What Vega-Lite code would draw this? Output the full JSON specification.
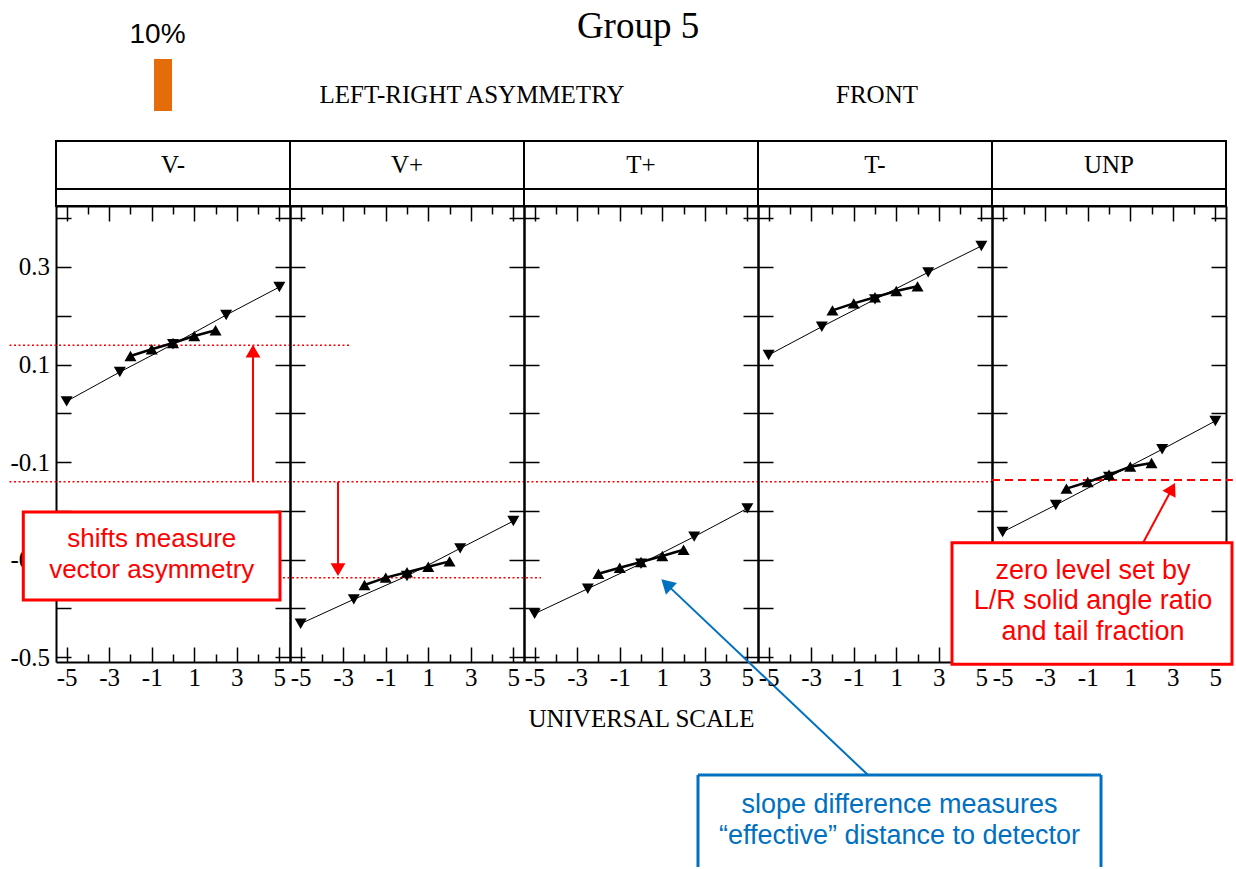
{
  "$schema": "https://vega.github.io/schema/vega-lite/v6.json",
  "autosize": {"type": "pad"},
  "padding": {"left": 8, "top": 7, "right": 0, "bottom": 0},
  "background": "white",
  "bounds": "flush",
  "spacing": 0,
  "datasets": {
    "pts": [
      {"panel": "V-", "series": "down", "x": -5, "y": 0.0245},
      {"panel": "V-", "series": "down", "x": -2.5, "y": 0.0846},
      {"panel": "V-", "series": "down", "x": 0, "y": 0.1414},
      {"panel": "V-", "series": "down", "x": 2.5, "y": 0.2015},
      {"panel": "V-", "series": "down", "x": 5, "y": 0.2589},
      {"panel": "V-", "series": "up", "x": -2, "y": 0.1174},
      {"panel": "V-", "series": "up", "x": -1, "y": 0.1312},
      {"panel": "V-", "series": "up", "x": 0, "y": 0.144},
      {"panel": "V-", "series": "up", "x": 1, "y": 0.1584},
      {"panel": "V-", "series": "up", "x": 2, "y": 0.1701},
      {"panel": "V+", "series": "down", "x": -5, "y": -0.4315},
      {"panel": "V+", "series": "down", "x": -2.5, "y": -0.3815},
      {"panel": "V+", "series": "down", "x": 0, "y": -0.3337},
      {"panel": "V+", "series": "down", "x": 2.5, "y": -0.277},
      {"panel": "V+", "series": "down", "x": 5, "y": -0.221},
      {"panel": "V+", "series": "up", "x": -2, "y": -0.352},
      {"panel": "V+", "series": "up", "x": -1, "y": -0.337},
      {"panel": "V+", "series": "up", "x": 0, "y": -0.326},
      {"panel": "V+", "series": "up", "x": 1, "y": -0.3146},
      {"panel": "V+", "series": "up", "x": 2, "y": -0.3036},
      {"panel": "T+", "series": "down", "x": -5, "y": -0.411},
      {"panel": "T+", "series": "down", "x": -2.5, "y": -0.3597},
      {"panel": "T+", "series": "down", "x": 0, "y": -0.3084},
      {"panel": "T+", "series": "down", "x": 2.5, "y": -0.253},
      {"panel": "T+", "series": "down", "x": 5, "y": -0.195},
      {"panel": "T+", "series": "up", "x": -2, "y": -0.329},
      {"panel": "T+", "series": "up", "x": -1, "y": -0.3167},
      {"panel": "T+", "series": "up", "x": 0, "y": -0.305},
      {"panel": "T+", "series": "up", "x": 1, "y": -0.2927},
      {"panel": "T+", "series": "up", "x": 2, "y": -0.2797},
      {"panel": "T-", "series": "down", "x": -5, "y": 0.1195},
      {"panel": "T-", "series": "down", "x": -2.5, "y": 0.1775},
      {"panel": "T-", "series": "down", "x": 0, "y": 0.2336},
      {"panel": "T-", "series": "down", "x": 2.5, "y": 0.289},
      {"panel": "T-", "series": "down", "x": 5, "y": 0.343},
      {"panel": "T-", "series": "up", "x": -2, "y": 0.211},
      {"panel": "T-", "series": "up", "x": -1, "y": 0.2254},
      {"panel": "T-", "series": "up", "x": 0, "y": 0.238},
      {"panel": "T-", "series": "up", "x": 1, "y": 0.2507},
      {"panel": "T-", "series": "up", "x": 2, "y": 0.2603},
      {"panel": "UNP", "series": "down", "x": -5, "y": -0.2434},
      {"panel": "UNP", "series": "down", "x": -2.5, "y": -0.188},
      {"panel": "UNP", "series": "down", "x": 0, "y": -0.1307},
      {"panel": "UNP", "series": "down", "x": 2.5, "y": -0.0739},
      {"panel": "UNP", "series": "down", "x": 5, "y": -0.0158},
      {"panel": "UNP", "series": "up", "x": -2, "y": -0.1546},
      {"panel": "UNP", "series": "up", "x": -1, "y": -0.1409},
      {"panel": "UNP", "series": "up", "x": 0, "y": -0.126},
      {"panel": "UNP", "series": "up", "x": 1, "y": -0.1095},
      {"panel": "UNP", "series": "up", "x": 2, "y": -0.102}
    ]
  },
  "hconcat": [
    {
      "width": 234, "height": 456,
      "resolve": {"axis": {"x": "independent", "y": "independent"}},
      "layer": [
        {"data": {"values": [{}]}, "mark": {"type": "rule", "color": "#FF0000", "strokeWidth": 1.5, "strokeDash": [2, 2.5], "clip": false},
         "encoding": {"x": {"datum": -7.686, "type": "quantitative", "axis": null}, "x2": {"datum": 8.32}, "y": {"datum": 0.1394, "type": "quantitative", "axis": null}}},
        {"data": {"values": [{}]}, "mark": {"type": "rule", "color": "#FF0000", "strokeWidth": 1.5, "strokeDash": [2, 2.5], "clip": false},
         "encoding": {"x": {"datum": -7.686, "type": "quantitative", "axis": null}, "x2": {"datum": 38.5}, "y": {"datum": -0.1403, "type": "quantitative", "axis": null}}},
        {"data": {"name": "pts"}, "transform": [{"filter": "datum.panel == 'V-' && datum.series == 'down'"}],
         "mark": {"type": "line", "color": "black", "strokeWidth": 1},
         "encoding": {
           "x": {"field": "x", "type": "quantitative", "scale": {"domain": [-5.5, 5.5], "nice": false, "zero": false},
                 "axis": {"orient": "bottom", "values": [-5, -4, -3, -2, -1, 0, 1, 2, 3, 4, 5], "tickSize": {"condition": {"test": "abs(datum.value) % 2 == 1", "value": -15}, "value": -8}, "labelExpr": "abs(datum.value) % 2 == 1 ? '' + datum.value : ''", "labelPadding": 18.5, "labelFlush": false, "labelOverlap": false, "title": null}},
           "y": {"field": "y", "type": "quantitative", "scale": {"domain": [-0.51, 0.425], "nice": false, "zero": false},
                 "axis": {"orient": "left", "values": [-0.5, -0.4, -0.3, -0.2, -0.1, 0, 0.1, 0.2, 0.3, 0.4], "tickSize": -15, "labelExpr": "indexof([0.3, 0.1, -0.1, -0.3, -0.5], datum.value) >= 0 ? '' + datum.value : ''", "labelPadding": 21.5, "labelFlush": false, "labelOverlap": false, "title": null}}
         }},
        {"data": {"name": "pts"}, "transform": [{"filter": "datum.panel == 'V-' && datum.series == 'up'"}],
         "mark": {"type": "line", "color": "black", "strokeWidth": 2.5},
         "encoding": {"x": {"field": "x", "type": "quantitative", "axis": null}, "y": {"field": "y", "type": "quantitative", "axis": null}}},
        {"data": {"name": "pts"}, "transform": [{"filter": "datum.panel == 'V-' && datum.series == 'up'"}],
         "mark": {"type": "point", "shape": "triangle-up", "filled": true, "color": "black", "size": 144, "opacity": 1},
         "encoding": {"x": {"field": "x", "type": "quantitative", "axis": null}, "y": {"field": "y", "type": "quantitative", "axis": null}}},
        {"data": {"name": "pts"}, "transform": [{"filter": "datum.panel == 'V-' && datum.series == 'down'"}],
         "mark": {"type": "point", "shape": "triangle-down", "filled": true, "color": "black", "size": 144, "opacity": 1},
         "encoding": {
           "x": {"field": "x", "type": "quantitative", "axis": {"orient": "top", "values": [-5, -4, -3, -2, -1, 0, 1, 2, 3, 4, 5], "tickSize": {"condition": {"test": "abs(datum.value) % 2 == 1", "value": -15}, "value": -8}, "labels": false, "title": null}},
           "y": {"field": "y", "type": "quantitative", "axis": {"orient": "right", "values": [-0.5, -0.4, -0.3, -0.2, -0.1, 0, 0.1, 0.2, 0.3, 0.4], "tickSize": -15, "labels": false, "title": null}}
         }},
        {"data": {"values": [{}]}, "mark": {"type": "rect", "filled": false, "stroke": "black", "strokeWidth": 2, "clip": false},
         "encoding": {"x": {"datum": -5.5, "type": "quantitative", "axis": null}, "x2": {"datum": 5.5}, "y": {"datum": 0.425, "type": "quantitative", "axis": null}, "y2": {"datum": 0.5583}}},
        {"data": {"values": [{}]}, "mark": {"type": "rule", "color": "black", "strokeWidth": 2, "clip": false},
         "encoding": {"x": {"datum": -5.5, "type": "quantitative", "axis": null}, "x2": {"datum": 5.5}, "y": {"datum": 0.4599, "type": "quantitative", "axis": null}}},
        {"data": {"values": [{"label": "V-"}]}, "mark": {"type": "text", "font": "Liberation Serif", "fontSize": 25, "color": "black", "align": "center", "baseline": "middle", "clip": false},
         "encoding": {"x": {"datum": 0, "type": "quantitative", "axis": null}, "y": {"datum": 0.509, "type": "quantitative", "axis": null}, "text": {"field": "label"}}},
        {"data": {"values": [{"label": "10%"}]}, "mark": {"type": "text", "font": "Liberation Sans", "fontSize": 28, "color": "black", "align": "center", "baseline": "alphabetic", "clip": false},
         "encoding": {"x": {"datum": -0.728, "type": "quantitative", "axis": null}, "y": {"datum": 0.760, "type": "quantitative", "axis": null}, "text": {"field": "label"}}},
        {"data": {"values": [{}]}, "mark": {"type": "rect", "color": "#E46C0A", "clip": false},
         "encoding": {"x": {"datum": -0.892, "type": "quantitative", "axis": null}, "x2": {"datum": -0.046}, "y": {"datum": 0.6198, "type": "quantitative", "axis": null}, "y2": {"datum": 0.7264}}},
        {"data": {"values": [{}]}, "mark": {"type": "rule", "color": "#FF0000", "strokeWidth": 2, "clip": false},
         "encoding": {"x": {"datum": 3.761, "type": "quantitative", "axis": null}, "y": {"datum": -0.1403, "type": "quantitative", "axis": null}, "y2": {"datum": 0.13}}},
        {"data": {"values": [{}]}, "mark": {"type": "point", "shape": "triangle-up", "filled": true, "color": "#FF0000", "size": 220, "opacity": 1, "clip": false},
         "encoding": {"x": {"datum": 3.761, "type": "quantitative", "axis": null}, "y": {"datum": 0.1275, "type": "quantitative", "axis": null}}},
        {"data": {"values": [{}]}, "mark": {"type": "rect", "fill": "white", "stroke": "#FF0000", "strokeWidth": 3, "clip": false},
         "encoding": {"x": {"datum": -7.037, "type": "quantitative", "axis": null}, "x2": {"datum": 5.03}, "y": {"datum": -0.3829, "type": "quantitative", "axis": null}, "y2": {"datum": -0.2024}}},
        {"data": {"values": [{"label": "shifts measure\nvector asymmetry"}]}, "mark": {"type": "text", "font": "Liberation Sans", "fontSize": 26, "color": "#FF0000", "align": "center", "baseline": "middle", "lineBreak": "\n", "lineHeight": 31, "clip": false},
         "encoding": {"x": {"datum": -1.0, "type": "quantitative", "axis": null}, "y": {"datum": -0.2578, "type": "quantitative", "axis": null}, "text": {"field": "label"}}}
      ]
    },
    {
      "width": 234, "height": 456,
      "resolve": {"axis": {"x": "independent", "y": "independent"}},
      "layer": [
        {"data": {"values": [{}]}, "mark": {"type": "rule", "color": "#FF0000", "strokeWidth": 1.5, "strokeDash": [2, 2.5], "clip": false},
         "encoding": {"x": {"datum": -5.83, "type": "quantitative", "axis": null}, "x2": {"datum": 6.3}, "y": {"datum": -0.337, "type": "quantitative", "axis": null}}},
        {"data": {"name": "pts"}, "transform": [{"filter": "datum.panel == 'V+' && datum.series == 'down'"}],
         "mark": {"type": "line", "color": "black", "strokeWidth": 1},
         "encoding": {
           "x": {"field": "x", "type": "quantitative", "scale": {"domain": [-5.5, 5.5], "nice": false, "zero": false},
                 "axis": {"orient": "bottom", "values": [-5, -4, -3, -2, -1, 0, 1, 2, 3, 4, 5], "tickSize": {"condition": {"test": "abs(datum.value) % 2 == 1", "value": -15}, "value": -8}, "labelExpr": "abs(datum.value) % 2 == 1 ? '' + datum.value : ''", "labelPadding": 18.5, "labelFlush": false, "labelOverlap": false, "title": null}},
           "y": {"field": "y", "type": "quantitative", "scale": {"domain": [-0.51, 0.425], "nice": false, "zero": false},
                 "axis": {"orient": "left", "values": [-0.5, -0.4, -0.3, -0.2, -0.1, 0, 0.1, 0.2, 0.3, 0.4], "tickSize": -15, "labels": false, "title": null}}
         }},
        {"data": {"name": "pts"}, "transform": [{"filter": "datum.panel == 'V+' && datum.series == 'up'"}],
         "mark": {"type": "line", "color": "black", "strokeWidth": 2.5},
         "encoding": {"x": {"field": "x", "type": "quantitative", "axis": null}, "y": {"field": "y", "type": "quantitative", "axis": null}}},
        {"data": {"name": "pts"}, "transform": [{"filter": "datum.panel == 'V+' && datum.series == 'up'"}],
         "mark": {"type": "point", "shape": "triangle-up", "filled": true, "color": "black", "size": 144, "opacity": 1},
         "encoding": {"x": {"field": "x", "type": "quantitative", "axis": null}, "y": {"field": "y", "type": "quantitative", "axis": null}}},
        {"data": {"name": "pts"}, "transform": [{"filter": "datum.panel == 'V+' && datum.series == 'down'"}],
         "mark": {"type": "point", "shape": "triangle-down", "filled": true, "color": "black", "size": 144, "opacity": 1},
         "encoding": {
           "x": {"field": "x", "type": "quantitative", "axis": {"orient": "top", "values": [-5, -4, -3, -2, -1, 0, 1, 2, 3, 4, 5], "tickSize": {"condition": {"test": "abs(datum.value) % 2 == 1", "value": -15}, "value": -8}, "labels": false, "title": null}},
           "y": {"field": "y", "type": "quantitative", "axis": {"orient": "right", "values": [-0.5, -0.4, -0.3, -0.2, -0.1, 0, 0.1, 0.2, 0.3, 0.4], "tickSize": -15, "labels": false, "title": null}}
         }},
        {"data": {"values": [{}]}, "mark": {"type": "rect", "filled": false, "stroke": "black", "strokeWidth": 2, "clip": false},
         "encoding": {"x": {"datum": -5.5, "type": "quantitative", "axis": null}, "x2": {"datum": 5.5}, "y": {"datum": 0.425, "type": "quantitative", "axis": null}, "y2": {"datum": 0.5583}}},
        {"data": {"values": [{}]}, "mark": {"type": "rule", "color": "black", "strokeWidth": 2, "clip": false},
         "encoding": {"x": {"datum": -5.5, "type": "quantitative", "axis": null}, "x2": {"datum": 5.5}, "y": {"datum": 0.4599, "type": "quantitative", "axis": null}}},
        {"data": {"values": [{"label": "V+"}]}, "mark": {"type": "text", "font": "Liberation Serif", "fontSize": 25, "color": "black", "align": "center", "baseline": "middle", "clip": false},
         "encoding": {"x": {"datum": 0, "type": "quantitative", "axis": null}, "y": {"datum": 0.509, "type": "quantitative", "axis": null}, "text": {"field": "label"}}},
        {"data": {"values": [{"label": "LEFT-RIGHT ASYMMETRY"}]}, "mark": {"type": "text", "font": "Liberation Serif", "fontSize": 25, "color": "black", "align": "center", "baseline": "alphabetic", "clip": false},
         "encoding": {"x": {"datum": 3.057, "type": "quantitative", "axis": null}, "y": {"datum": 0.6361, "type": "quantitative", "axis": null}, "text": {"field": "label"}}},
        {"data": {"values": [{}]}, "mark": {"type": "rule", "color": "#FF0000", "strokeWidth": 2, "clip": false},
         "encoding": {"x": {"datum": -3.244, "type": "quantitative", "axis": null}, "y": {"datum": -0.1403, "type": "quantitative", "axis": null}, "y2": {"datum": -0.318}}},
        {"data": {"values": [{}]}, "mark": {"type": "point", "shape": "triangle-down", "filled": true, "color": "#FF0000", "size": 220, "opacity": 1, "clip": false},
         "encoding": {"x": {"datum": -3.244, "type": "quantitative", "axis": null}, "y": {"datum": -0.3205, "type": "quantitative", "axis": null}}}
      ]
    },
    {
      "width": 234, "height": 456,
      "resolve": {"axis": {"x": "independent", "y": "independent"}},
      "layer": [
        {"data": {"name": "pts"}, "transform": [{"filter": "datum.panel == 'T+' && datum.series == 'down'"}],
         "mark": {"type": "line", "color": "black", "strokeWidth": 1},
         "encoding": {
           "x": {"field": "x", "type": "quantitative", "scale": {"domain": [-5.5, 5.5], "nice": false, "zero": false},
                 "axis": {"orient": "bottom", "values": [-5, -4, -3, -2, -1, 0, 1, 2, 3, 4, 5], "tickSize": {"condition": {"test": "abs(datum.value) % 2 == 1", "value": -15}, "value": -8}, "labelExpr": "abs(datum.value) % 2 == 1 ? '' + datum.value : ''", "labelPadding": 18.5, "labelFlush": false, "labelOverlap": false, "title": "UNIVERSAL SCALE", "titlePadding": 8.5}},
           "y": {"field": "y", "type": "quantitative", "scale": {"domain": [-0.51, 0.425], "nice": false, "zero": false},
                 "axis": {"orient": "left", "values": [-0.5, -0.4, -0.3, -0.2, -0.1, 0, 0.1, 0.2, 0.3, 0.4], "tickSize": -15, "labels": false, "title": null}}
         }},
        {"data": {"name": "pts"}, "transform": [{"filter": "datum.panel == 'T+' && datum.series == 'up'"}],
         "mark": {"type": "line", "color": "black", "strokeWidth": 2.5},
         "encoding": {"x": {"field": "x", "type": "quantitative", "axis": null}, "y": {"field": "y", "type": "quantitative", "axis": null}}},
        {"data": {"name": "pts"}, "transform": [{"filter": "datum.panel == 'T+' && datum.series == 'up'"}],
         "mark": {"type": "point", "shape": "triangle-up", "filled": true, "color": "black", "size": 144, "opacity": 1},
         "encoding": {"x": {"field": "x", "type": "quantitative", "axis": null}, "y": {"field": "y", "type": "quantitative", "axis": null}}},
        {"data": {"name": "pts"}, "transform": [{"filter": "datum.panel == 'T+' && datum.series == 'down'"}],
         "mark": {"type": "point", "shape": "triangle-down", "filled": true, "color": "black", "size": 144, "opacity": 1},
         "encoding": {
           "x": {"field": "x", "type": "quantitative", "axis": {"orient": "top", "values": [-5, -4, -3, -2, -1, 0, 1, 2, 3, 4, 5], "tickSize": {"condition": {"test": "abs(datum.value) % 2 == 1", "value": -15}, "value": -8}, "labels": false, "title": null}},
           "y": {"field": "y", "type": "quantitative", "axis": {"orient": "right", "values": [-0.5, -0.4, -0.3, -0.2, -0.1, 0, 0.1, 0.2, 0.3, 0.4], "tickSize": -15, "labels": false, "title": null}}
         }},
        {"data": {"values": [{}]}, "mark": {"type": "rect", "filled": false, "stroke": "black", "strokeWidth": 2, "clip": false},
         "encoding": {"x": {"datum": -5.5, "type": "quantitative", "axis": null}, "x2": {"datum": 5.5}, "y": {"datum": 0.425, "type": "quantitative", "axis": null}, "y2": {"datum": 0.5583}}},
        {"data": {"values": [{}]}, "mark": {"type": "rule", "color": "black", "strokeWidth": 2, "clip": false},
         "encoding": {"x": {"datum": -5.5, "type": "quantitative", "axis": null}, "x2": {"datum": 5.5}, "y": {"datum": 0.4599, "type": "quantitative", "axis": null}}},
        {"data": {"values": [{"label": "T+"}]}, "mark": {"type": "text", "font": "Liberation Serif", "fontSize": 25, "color": "black", "align": "center", "baseline": "middle", "clip": false},
         "encoding": {"x": {"datum": 0, "type": "quantitative", "axis": null}, "y": {"datum": 0.509, "type": "quantitative", "axis": null}, "text": {"field": "label"}}},
        {"data": {"values": [{"label": "Group 5"}]}, "mark": {"type": "text", "font": "Liberation Serif", "fontSize": 37, "color": "black", "align": "center", "baseline": "alphabetic", "clip": false},
         "encoding": {"x": {"datum": -0.14, "type": "quantitative", "axis": null}, "y": {"datum": 0.7695, "type": "quantitative", "axis": null}, "text": {"field": "label"}}},
        {"data": {"values": [{}]}, "mark": {"type": "rule", "color": "#0070C0", "strokeWidth": 2, "clip": false},
         "encoding": {"x": {"datum": 10.671, "type": "quantitative", "axis": null}, "x2": {"datum": 1.194}, "y": {"datum": -0.7417, "type": "quantitative", "axis": null}, "y2": {"datum": -0.3503}}},
        {"data": {"values": [{}]}, "mark": {"type": "point", "shape": "triangle-up", "filled": true, "color": "#0070C0", "size": 256, "opacity": 1, "angle": 313.3, "clip": false},
         "encoding": {"x": {"datum": 1.194, "type": "quantitative", "axis": null}, "y": {"datum": -0.3503, "type": "quantitative", "axis": null}}},
        {"data": {"values": [{}]}, "mark": {"type": "rule", "color": "#0070C0", "strokeWidth": 3, "clip": false},
         "encoding": {"x": {"datum": 2.679, "type": "quantitative", "axis": null}, "x2": {"datum": 21.624}, "y": {"datum": -0.7417, "type": "quantitative", "axis": null}}},
        {"data": {"values": [{}]}, "mark": {"type": "rule", "color": "#0070C0", "strokeWidth": 3, "clip": false},
         "encoding": {"x": {"datum": 2.679, "type": "quantitative", "axis": null}, "y": {"datum": -0.7417, "type": "quantitative", "axis": null}, "y2": {"datum": -0.9303}}},
        {"data": {"values": [{}]}, "mark": {"type": "rule", "color": "#0070C0", "strokeWidth": 3, "clip": false},
         "encoding": {"x": {"datum": 21.624, "type": "quantitative", "axis": null}, "y": {"datum": -0.7417, "type": "quantitative", "axis": null}, "y2": {"datum": -0.9303}}},
        {"data": {"values": [{"label": "slope difference measures\n\u201ceffective\u201d distance to detector"}]}, "mark": {"type": "text", "font": "Liberation Sans", "fontSize": 27, "color": "#0070C0", "align": "center", "baseline": "middle", "lineBreak": "\n", "lineHeight": 31, "clip": false},
         "encoding": {"x": {"datum": 12.152, "type": "quantitative", "axis": null}, "y": {"datum": -0.8032, "type": "quantitative", "axis": null}, "text": {"field": "label"}}}
      ]
    },
    {
      "width": 234, "height": 456,
      "resolve": {"axis": {"x": "independent", "y": "independent"}},
      "layer": [
        {"data": {"name": "pts"}, "transform": [{"filter": "datum.panel == 'T-' && datum.series == 'down'"}],
         "mark": {"type": "line", "color": "black", "strokeWidth": 1},
         "encoding": {
           "x": {"field": "x", "type": "quantitative", "scale": {"domain": [-5.5, 5.5], "nice": false, "zero": false},
                 "axis": {"orient": "bottom", "values": [-5, -4, -3, -2, -1, 0, 1, 2, 3, 4, 5], "tickSize": {"condition": {"test": "abs(datum.value) % 2 == 1", "value": -15}, "value": -8}, "labelExpr": "abs(datum.value) % 2 == 1 ? '' + datum.value : ''", "labelPadding": 18.5, "labelFlush": false, "labelOverlap": false, "title": null}},
           "y": {"field": "y", "type": "quantitative", "scale": {"domain": [-0.51, 0.425], "nice": false, "zero": false},
                 "axis": {"orient": "left", "values": [-0.5, -0.4, -0.3, -0.2, -0.1, 0, 0.1, 0.2, 0.3, 0.4], "tickSize": -15, "labels": false, "title": null}}
         }},
        {"data": {"name": "pts"}, "transform": [{"filter": "datum.panel == 'T-' && datum.series == 'up'"}],
         "mark": {"type": "line", "color": "black", "strokeWidth": 2.5},
         "encoding": {"x": {"field": "x", "type": "quantitative", "axis": null}, "y": {"field": "y", "type": "quantitative", "axis": null}}},
        {"data": {"name": "pts"}, "transform": [{"filter": "datum.panel == 'T-' && datum.series == 'up'"}],
         "mark": {"type": "point", "shape": "triangle-up", "filled": true, "color": "black", "size": 144, "opacity": 1},
         "encoding": {"x": {"field": "x", "type": "quantitative", "axis": null}, "y": {"field": "y", "type": "quantitative", "axis": null}}},
        {"data": {"name": "pts"}, "transform": [{"filter": "datum.panel == 'T-' && datum.series == 'down'"}],
         "mark": {"type": "point", "shape": "triangle-down", "filled": true, "color": "black", "size": 144, "opacity": 1},
         "encoding": {
           "x": {"field": "x", "type": "quantitative", "axis": {"orient": "top", "values": [-5, -4, -3, -2, -1, 0, 1, 2, 3, 4, 5], "tickSize": {"condition": {"test": "abs(datum.value) % 2 == 1", "value": -15}, "value": -8}, "labels": false, "title": null}},
           "y": {"field": "y", "type": "quantitative", "axis": {"orient": "right", "values": [-0.5, -0.4, -0.3, -0.2, -0.1, 0, 0.1, 0.2, 0.3, 0.4], "tickSize": -15, "labels": false, "title": null}}
         }},
        {"data": {"values": [{}]}, "mark": {"type": "rect", "filled": false, "stroke": "black", "strokeWidth": 2, "clip": false},
         "encoding": {"x": {"datum": -5.5, "type": "quantitative", "axis": null}, "x2": {"datum": 5.5}, "y": {"datum": 0.425, "type": "quantitative", "axis": null}, "y2": {"datum": 0.5583}}},
        {"data": {"values": [{}]}, "mark": {"type": "rule", "color": "black", "strokeWidth": 2, "clip": false},
         "encoding": {"x": {"datum": -5.5, "type": "quantitative", "axis": null}, "x2": {"datum": 5.5}, "y": {"datum": 0.4599, "type": "quantitative", "axis": null}}},
        {"data": {"values": [{"label": "T-"}]}, "mark": {"type": "text", "font": "Liberation Serif", "fontSize": 25, "color": "black", "align": "center", "baseline": "middle", "clip": false},
         "encoding": {"x": {"datum": 0, "type": "quantitative", "axis": null}, "y": {"datum": 0.509, "type": "quantitative", "axis": null}, "text": {"field": "label"}}},
        {"data": {"values": [{"label": "FRONT"}]}, "mark": {"type": "text", "font": "Liberation Serif", "fontSize": 25, "color": "black", "align": "center", "baseline": "alphabetic", "clip": false},
         "encoding": {"x": {"datum": 0.095, "type": "quantitative", "axis": null}, "y": {"datum": 0.6361, "type": "quantitative", "axis": null}, "text": {"field": "label"}}}
      ]
    },
    {
      "width": 234, "height": 456,
      "resolve": {"axis": {"x": "independent", "y": "independent"}},
      "layer": [
        {"data": {"values": [{}]}, "mark": {"type": "rule", "color": "#FF0000", "strokeWidth": 2, "strokeDash": [8, 5], "clip": false},
         "encoding": {"x": {"datum": -5.5, "type": "quantitative", "axis": null}, "x2": {"datum": 5.82}, "y": {"datum": -0.137, "type": "quantitative", "axis": null}}},
        {"data": {"name": "pts"}, "transform": [{"filter": "datum.panel == 'UNP' && datum.series == 'down'"}],
         "mark": {"type": "line", "color": "black", "strokeWidth": 1},
         "encoding": {
           "x": {"field": "x", "type": "quantitative", "scale": {"domain": [-5.5, 5.5], "nice": false, "zero": false},
                 "axis": {"orient": "bottom", "values": [-5, -4, -3, -2, -1, 0, 1, 2, 3, 4, 5], "tickSize": {"condition": {"test": "abs(datum.value) % 2 == 1", "value": -15}, "value": -8}, "labelExpr": "abs(datum.value) % 2 == 1 ? '' + datum.value : ''", "labelPadding": 18.5, "labelFlush": false, "labelOverlap": false, "title": null}},
           "y": {"field": "y", "type": "quantitative", "scale": {"domain": [-0.51, 0.425], "nice": false, "zero": false},
                 "axis": {"orient": "left", "values": [-0.5, -0.4, -0.3, -0.2, -0.1, 0, 0.1, 0.2, 0.3, 0.4], "tickSize": -15, "labels": false, "title": null}}
         }},
        {"data": {"name": "pts"}, "transform": [{"filter": "datum.panel == 'UNP' && datum.series == 'up'"}],
         "mark": {"type": "line", "color": "black", "strokeWidth": 2.5},
         "encoding": {"x": {"field": "x", "type": "quantitative", "axis": null}, "y": {"field": "y", "type": "quantitative", "axis": null}}},
        {"data": {"name": "pts"}, "transform": [{"filter": "datum.panel == 'UNP' && datum.series == 'up'"}],
         "mark": {"type": "point", "shape": "triangle-up", "filled": true, "color": "black", "size": 144, "opacity": 1},
         "encoding": {"x": {"field": "x", "type": "quantitative", "axis": null}, "y": {"field": "y", "type": "quantitative", "axis": null}}},
        {"data": {"name": "pts"}, "transform": [{"filter": "datum.panel == 'UNP' && datum.series == 'down'"}],
         "mark": {"type": "point", "shape": "triangle-down", "filled": true, "color": "black", "size": 144, "opacity": 1},
         "encoding": {
           "x": {"field": "x", "type": "quantitative", "axis": {"orient": "top", "values": [-5, -4, -3, -2, -1, 0, 1, 2, 3, 4, 5], "tickSize": {"condition": {"test": "abs(datum.value) % 2 == 1", "value": -15}, "value": -8}, "labels": false, "title": null}},
           "y": {"field": "y", "type": "quantitative", "axis": {"orient": "right", "values": [-0.5, -0.4, -0.3, -0.2, -0.1, 0, 0.1, 0.2, 0.3, 0.4], "tickSize": -15, "labels": false, "title": null}}
         }},
        {"data": {"values": [{}]}, "mark": {"type": "rect", "filled": false, "stroke": "black", "strokeWidth": 2, "clip": false},
         "encoding": {"x": {"datum": -5.5, "type": "quantitative", "axis": null}, "x2": {"datum": 5.5}, "y": {"datum": 0.425, "type": "quantitative", "axis": null}, "y2": {"datum": 0.5583}}},
        {"data": {"values": [{}]}, "mark": {"type": "rule", "color": "black", "strokeWidth": 2, "clip": false},
         "encoding": {"x": {"datum": -5.5, "type": "quantitative", "axis": null}, "x2": {"datum": 5.5}, "y": {"datum": 0.4599, "type": "quantitative", "axis": null}}},
        {"data": {"values": [{"label": "UNP"}]}, "mark": {"type": "text", "font": "Liberation Serif", "fontSize": 25, "color": "black", "align": "center", "baseline": "middle", "clip": false},
         "encoding": {"x": {"datum": 0, "type": "quantitative", "axis": null}, "y": {"datum": 0.509, "type": "quantitative", "axis": null}, "text": {"field": "label"}}},
        {"data": {"values": [{}]}, "mark": {"type": "rule", "color": "#FF0000", "strokeWidth": 2, "clip": false},
         "encoding": {"x": {"datum": 1.598, "type": "quantitative", "axis": null}, "x2": {"datum": 2.962}, "y": {"datum": -0.266, "type": "quantitative", "axis": null}, "y2": {"datum": -0.1546}}},
        {"data": {"values": [{}]}, "mark": {"type": "point", "shape": "triangle-up", "filled": true, "color": "#FF0000", "size": 220, "opacity": 1, "angle": 28, "clip": false},
         "encoding": {"x": {"datum": 2.962, "type": "quantitative", "axis": null}, "y": {"datum": -0.1546, "type": "quantitative", "axis": null}}},
        {"data": {"values": [{}]}, "mark": {"type": "rect", "fill": "white", "stroke": "#FF0000", "strokeWidth": 3, "clip": false},
         "encoding": {"x": {"datum": -7.38, "type": "quantitative", "axis": null}, "x2": {"datum": 5.782}, "y": {"datum": -0.5147, "type": "quantitative", "axis": null}, "y2": {"datum": -0.2654}}},
        {"data": {"values": [{"label": "zero level set by\nL/R solid angle ratio\nand tail fraction"}]}, "mark": {"type": "text", "font": "Liberation Sans", "fontSize": 27, "color": "#FF0000", "align": "center", "baseline": "middle", "lineBreak": "\n", "lineHeight": 30.5, "clip": false},
         "encoding": {"x": {"datum": -0.75, "type": "quantitative", "axis": null}, "y": {"datum": -0.3234, "type": "quantitative", "axis": null}, "text": {"field": "label"}}}
      ]
    }
  ],
  "config": {
    "view": {"stroke": null},
    "axis": {"domain": true, "domainColor": "black", "domainWidth": 2, "ticks": true, "tickColor": "black", "tickWidth": 1.5, "grid": false, "labelFont": "Liberation Serif", "labelFontSize": 25, "labelColor": "black", "titleFont": "Liberation Serif", "titleFontSize": 25, "titleFontWeight": "normal", "titleColor": "black"}
  }
}
